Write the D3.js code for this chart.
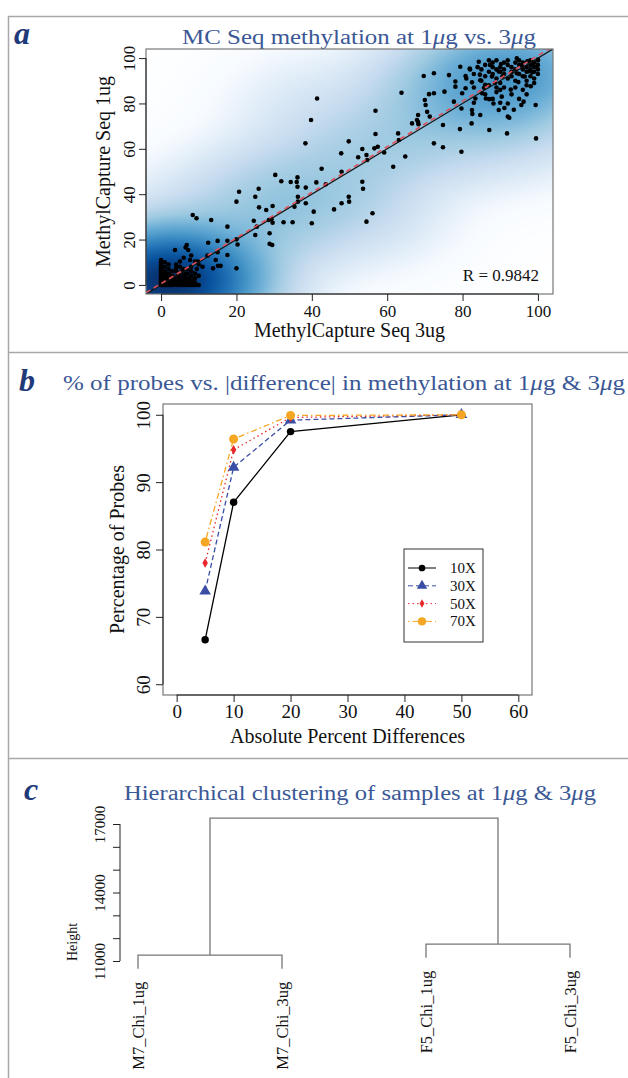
<!DOCTYPE html>
<html>
<head>
<meta charset="utf-8">
<script src="https://cdn.jsdelivr.net/npm/d3@7"></script>
<style>
body{margin:0;background:#fff}
svg{display:block}
text{font-family:"Liberation Serif","Times New Roman",serif;fill:#111}
.ttl{fill:#3b5896}
.lett{fill:#1f3a78;font-weight:bold;font-style:italic}
</style>
</head>
<body>
<div id="fig"></div>
<script>
// ---- panel a : MC seq 3ug (x) vs 1ug (y) ----
var mcPoints = [
  [0,0],[0,1],[0,2],[0,3],[0,4],[0,5],[0,6],[0,7],[0,8],[0,9],[0,10],[0,11],
  [0,0.5],[0,1.5],[0,2.5],[0,3.5],[0,4.5],[0,5.5],[0,6.5],[0,7.5],[0.3,0],[0.3,1],[0.3,2],[0.3,3],
  [0.5,0],[0.5,1.5],[1,0],[1,1],[1,2],[1,3],[1,5],[1.5,0.5],[1.5,2],[2,0],[2,1],[2,2],[2,3],[2,5],
  [1,0.5],[1,1.5],[1.5,0],[1.5,1],[2,0.5],[2,1.5],[2.5,0.5],[3,0.5],[3,1.5],[3.5,1],[4,0.5],[4,1.5],
  [4.5,1],[5,0.5],[5,1.5],[5.5,0],[6,0.5],[6,1.5],[6.5,0],[6.5,1],[7,0.5],[7.5,0],[7.5,1],[8,0.5],
  [8.5,0],[9,1],[9.5,0],[10,0],[1,4],[2,4],[3,3],[1,6],[2,7],[1,8],[2,9],[1,10],[3,6],[4,7.5],
  [2.5,0],[2.5,1.5],[3,0],[3,1],[3,2],[3,4],[3.5,0.5],[3.5,2.5],[4,0],[4,1],[4,2],[4,3],[4,6],
  [4.5,0.5],[4.5,4],[5,0],[5,1],[5,2],[5,3],[5,5],[5,8],[5.5,1],[5.5,6],[6,0],[6,1],[6,2],[6,4],
  [6,7],[6.5,3],[6.5,5],[7,0],[7,1],[7,2],[7,5],[7,7],[7.5,3],[8,0],[8,1],[8,4],[8,6],[8,8],
  [8.5,2],[9,0],[9,3],[9,5],[9.5,7],[10,4],[10,9],[11,8],[3.7,15.4],[6.8,17.6],[7.2,15.4],
  [6.5,16.5],[5,10.3],[4,9],[7.7,11],[9,10.3],[9.8,10.3],[6,12],[8,13],
  [8.4,30.8],[9.4,29.4],[12.3,12.9],[12.5,18.6],[13.3,28.6],[13.8,7.3],[14.5,11.0],[15.0,19.4],
  [15.0,14.4],[15.1,8.4],[15.8,8.4],[17.6,25.7],[17.6,19.5],[17.6,13.2],[20.0,7.3],[20.0,20.1],
  [20.3,17.8],[20.0,36.7],[20.7,41.1],[24.6,28.3],[25.0,22.0],[25.4,25.7],[25.0,38.9],[25.9,42.4],
  [26.0,34.2],[27.9,33.0],[28.6,28.6],[28.8,22.8],[28.8,18.1],[29.5,17.6],[29.6,34.8],[29.6,27.4],
  [29.3,29.0],[30.3,48.5],[31.9,45.7],[32.5,27.6],[34.4,45.4],[34.9,27.6],[35.4,34.5],[36.0,45.4],
  [36.2,47.4],[36.2,43.3],[36.3,36.7],[36.3,38.9],[38.3,62.4],[38.4,42.9],[38.4,36.0],[39.8,72.7],
  [40.0,27.2],[40.5,32.3],[41.4,82.2],[41.2,45.2],[42.6,51.2],[43.7,44.4],[45.9,33.3],[47.8,58.0],
  [47.9,49.9],[47.9,36.0],[49.8,63.3],[49.8,38.9],[49.9,36.7],[52.3,56.3],[53.4,59.9],[53.4,45.5],
  [53.6,42.4],[54.5,57.3],[54.7,55.1],[54.5,27.9],[56.1,31.6],[56.6,60.2],[56.9,76.8],[56.9,66.5],
  [57.5,60.9],
  [59.2,58.4],[61.6,52.1],[62.9,66.8],[63.1,63.9],[63.8,84.7],[64.8,56.6],[66.6,71.2],[67.9,72.7],
  [68.2,74.9],[68.2,71.8],[68.3,70.8],[70.0,81.5],[70.2,79.3],[70.6,76.3],[69.7,92.1],[71.1,84.1],
  [71.3,74.2],[72.4,93.3],[72.4,84.5],[72.4,62.4],[74.8,60.7],[74.8,70.5],[75.2,85.2],[76.4,92.5],
  [77.7,80.8],[78.1,89.7],[78.1,87.4],[79.3,68.7],[79.7,58.7],[79.7,77.8],[79.4,96.2],[79.9,84.5],
  [80.8,92.1],[80.8,86.7],[81.9,95.4],[82.0,95.0],[82.5,89.3],[82.5,77.1],[82.6,75.4],[83.0,80.3],
  [83.4,82.2],[82.4,71.2],[84.7,74.9],[84.7,90.2],[84.6,92.7],[84.3,98.4],[85.2,84.5],[85.7,86.9],
  [86.0,88.2],[86.2,82.2],[87.1,81.9],[87.1,68.3],[87.3,97.0],[87.8,91.9],[88.2,80.0],[88.6,89.0],
  [89.0,87.0],[89.6,94.1],[89.6,77.1],[90.0,80.3],[90.2,97.4],[90.4,83.0],[90.6,92.0],[91.1,78.0],
  [91.8,66.8],[92.0,74.2],[92.4,73.7],[92.8,86.1],[93.6,77.2],[94.4,99.9],[94.4,93.3],[94.8,89.4],
  [95.6,79.3],[95.8,96.5],[96.2,80.8],[96.5,91.9],[97.2,98.6],[97.6,94.2],[98.1,87.6],[98.5,93.7],
  [98.7,97.3],[99.4,79.3],[99.5,64.6],[99.6,96.0],[100,99.3],
  [85,95],[86,97],[86,92],[87,99],[87,94],[88,96],[88,93],[88,98],[89,91],[89,95],[89,99],[90,94],
  [90,96],[90,89],[91,98],[91,93],[91,95],[92,97],[92,91],[92,99],[93,94],[93,96],[93,92],[94,98],
  [94,95],[94,90],[95,97],[95,93],[95,99],[96,95],[96,92],[96,98],[97,96],[97,94],[97,90],[98,99],
  [98,97],[98,95],[98,92],[99,98],[99,96],[99,94],[99,91],[100,97],[100,99],[100,95],[100,93],
  [96,86],[97,88],[94,87],[91,87],[93,84],[89,85],[87,88],[85,90],[84,96],[83,93],[86,84],[88,82],
  [95,82],[92,80],[90,86],[97,84],[99,89],[83,87],[81,91]
];
// probes hidden under the solid black mass at the origin: [x, y, count]
var originStack = [[0,0,120],[1,1,60],[2,0,60],[0,3,40],[4,1,40],[6,1,30],[0,7,20],[8,1,20]];
var mcTicks = [0,20,40,60,80,100];
var lmIntercept = 0.6, lmSlope = 1.005;
var rLabel = "R = 0.9842";
var blues9 = ["#F7FBFF","#DEEBF7","#C6DBEF","#9ECAE1","#6BAED6","#4292C6","#2171B5","#08519C","#08306B"];

// ---- panel b : % probes vs |difference| ----
var diffLevels = [5,10,20,50];
var coverages = ["10X","30X","50X","70X"];
var pct10X = [66.6,87.0,97.5,100];
var pct30X = [73.8,92.2,99.2,100];
var pct50X = [78.0,94.8,99.6,100];
var pct70X = [81.1,96.4,99.9,100];
var diffTicks = [0,10,20,30,40,50,60];
var pctTicks = [60,70,80,90,100];

// ---- panel c : dendrogram ----
var samples = ["M7_Chi_1ug","M7_Chi_3ug","F5_Chi_1ug","F5_Chi_3ug"];
var mergeM7 = 11260, mergeF5 = 11740, mergeTop = 17260;
var heightTicks = [11000,12000,13000,14000,15000,16000,17000];
var heightLabels = [11000,14000,17000];

var W = 628, H = 1078;
var svg = d3.select("#fig").append("svg").attr("width", W).attr("height", H);

// frame
var frame = svg.append("g").attr("stroke","#a8a8a8").attr("stroke-width",1.5);
frame.append("line").attr("x1",8.5).attr("x2",8.5).attr("y1",16).attr("y2",H);
frame.append("line").attr("x1",8).attr("x2",W).attr("y1",16.5).attr("y2",16.5);
frame.append("line").attr("x1",8).attr("x2",W).attr("y1",352.5).attr("y2",352.5);
frame.append("line").attr("x1",8).attr("x2",W).attr("y1",758.5).attr("y2",758.5);

function mu(t, pre, post){
  t.append("tspan").text(pre);
  t.append("tspan").style("font-style","italic").text("\u03bc");
  t.append("tspan").text(post);
}

// R style axis: line from first to last tick
function bottomAxis(g, sc, ticks, y0, fs, pad){
  var a = g.append("g").attr("transform","translate(0,"+y0+")")
    .call(d3.axisBottom(sc).tickValues(ticks).tickSize(7).tickPadding(pad));
  a.select(".domain").attr("d","M"+sc(ticks[0])+",0H"+sc(ticks[ticks.length-1]));
  a.selectAll("line,path").attr("stroke","#222");
  a.selectAll("text").style("font-size",fs+"px").attr("fill","#111");
  a.attr("font-family",null);
  return a;
}
function leftAxis(g, sc, ticks, x0, fs, dist, labels){
  var a = g.append("g").attr("transform","translate("+x0+",0)")
    .call(d3.axisLeft(sc).tickValues(ticks).tickSize(7)
      .tickFormat(function(d){ return (!labels || labels.indexOf(d)>=0) ? d : ""; }));
  a.select(".domain").attr("d","M0,"+sc(ticks[0])+"V"+sc(ticks[ticks.length-1]));
  a.selectAll("line,path").attr("stroke","#222");
  a.selectAll("text").attr("transform","rotate(-90)").attr("x",0).attr("y",-dist)
    .attr("dy",null).attr("text-anchor","middle").style("font-size",fs+"px").attr("fill","#111");
  a.attr("font-family",null);
  return a;
}

// ================= panel a =================
var ga = svg.append("g");
ga.append("text").attr("class","lett").attr("x",14).attr("y",44).style("font-size","32px").text("a");
var ta = ga.append("text").attr("class","ttl").attr("x",359).attr("y",44).attr("text-anchor","middle")
  .style("font-size","20px").attr("textLength",354).attr("lengthAdjust","spacingAndGlyphs");
mu(ta, "MC Seq methylation at 1", "g vs. 3");
ta.append("tspan").style("font-style","italic").text("\u03bc");
ta.append("tspan").text("g");

var xa = d3.scaleLinear().domain([-4,104]).range([146,553]);
var ya = d3.scaleLinear().domain([-4,104]).range([294,49]);

// smoothed density background (smoothScatter-like)
var densPts = mcPoints.map(function(p){ return [p[0],p[1],1]; }).concat(originStack);
var nx = 120, ny = 120, bw = 10.5;
var dens = new Float64Array(nx*ny), dmax = 0;
for (var j=0;j<ny;j++){
  var gyv = 104 - (j+0.5)*108/ny;
  for (var i=0;i<nx;i++){
    var gxv = -4 + (i+0.5)*108/nx, s = 0;
    densPts.forEach(function(p){
      var dx=(p[0]-gxv)/bw, dy=(p[1]-gyv)/bw;
      s += p[2]*Math.exp(-0.5*(dx*dx+dy*dy));
    });
    dens[j*nx+i] = s; if (s>dmax) dmax = s;
  }
}
var pal = d3.piecewise(d3.interpolateRgb, ["#FFFFFF"].concat(blues9));
var cv = document.createElement("canvas"); cv.width = nx; cv.height = ny;
var cx = cv.getContext("2d"), im = cx.createImageData(nx, ny);
for (var k=0;k<nx*ny;k++){
  var c = d3.rgb(pal(Math.pow(dens[k]/dmax, 0.25)));
  im.data[4*k]=c.r; im.data[4*k+1]=c.g; im.data[4*k+2]=c.b; im.data[4*k+3]=255;
}
cx.putImageData(im,0,0);
ga.append("image").attr("x",xa(-4)).attr("y",ya(104)).attr("width",xa(104)-xa(-4))
  .attr("height",ya(-4)-ya(104)).attr("preserveAspectRatio","none")
  .attr("href", cv.toDataURL());

ga.append("clipPath").attr("id","clipA").append("rect")
  .attr("x",xa(-4)).attr("y",ya(104)).attr("width",xa(104)-xa(-4)).attr("height",ya(-4)-ya(104));
var pa = ga.append("g").attr("clip-path","url(#clipA)");
pa.selectAll("circle").data(mcPoints).enter().append("circle")
  .attr("cx",function(d){return xa(d[0]);}).attr("cy",function(d){return ya(d[1]);})
  .attr("r",2.3).attr("fill","#000");
pa.append("line").attr("x1",xa(-4)).attr("y1",ya(-4)).attr("x2",xa(104)).attr("y2",ya(104))
  .attr("stroke","#111").attr("stroke-width",1.2);
pa.append("line").attr("x1",xa(-4)).attr("y1",ya(lmIntercept-4*lmSlope))
  .attr("x2",xa(104)).attr("y2",ya(lmIntercept+104*lmSlope))
  .attr("stroke","#e0505a").attr("stroke-width",1.6).attr("stroke-dasharray","5,4");
ga.append("rect").attr("x",xa(-4)).attr("y",ya(104)).attr("width",xa(104)-xa(-4))
  .attr("height",ya(-4)-ya(104)).attr("fill","none").attr("stroke","#777").attr("stroke-width",1.2);
ga.append("text").attr("x",539).attr("y",281).attr("text-anchor","end").style("font-size","17px").text(rLabel);

bottomAxis(ga, xa, mcTicks, 294, 17, 4);
leftAxis(ga, ya, mcTicks, 146, 17, 11);
ga.append("text").attr("x",xa(50)).attr("y",337).attr("text-anchor","middle").style("font-size","20px")
  .text("MethylCapture Seq 3ug");
ga.append("text").attr("transform","translate(110,"+ya(50)+") rotate(-90)").attr("text-anchor","middle")
  .style("font-size","20px").text("MethylCapture Seq 1ug");

// ================= panel b =================
var gb = svg.append("g");
gb.append("text").attr("class","lett").attr("x",19).attr("y",391).style("font-size","32px").text("b");
var tb = gb.append("text").attr("class","ttl").attr("x",344).attr("y",390).attr("text-anchor","middle")
  .style("font-size","20px").attr("textLength",562).attr("lengthAdjust","spacingAndGlyphs");
mu(tb, "% of probes vs. |difference| in methylation at 1", "g & 3");
tb.append("tspan").style("font-style","italic").text("\u03bc");
tb.append("tspan").text("g");

var xb = d3.scaleLinear().domain([-2.4,62.4]).range([163,532]);
var yb = d3.scaleLinear().domain([58.4,101.6]).range([695,404]);
gb.append("rect").attr("x",163).attr("y",404).attr("width",369).attr("height",291)
  .attr("fill","none").attr("stroke","#777").attr("stroke-width",1.2);

var seriesB = [
  {name:coverages[0], vals:pct10X, color:"#000000", dash:null, sym:d3.symbolCircle, size:44},
  {name:coverages[1], vals:pct30X, color:"#3a4ea5", dash:"5,3", sym:d3.symbolTriangle, size:58},
  {name:coverages[2], vals:pct50X, color:"#e8262b", dash:"1.5,3", sym:d3.symbolDiamond, size:26},
  {name:coverages[3], vals:pct70X, color:"#f5a623", dash:"1.5,3,6,3", sym:d3.symbolCircle, size:64}
];
var lineB = d3.line().x(function(d){return xb(d[0]);}).y(function(d){return yb(d[1]);});
seriesB.forEach(function(s){
  var pts = diffLevels.map(function(d,i){return [d, s.vals[i]];});
  gb.append("path").attr("d",lineB(pts)).attr("fill","none").attr("stroke",s.color)
    .attr("stroke-width",1.3).attr("stroke-dasharray",s.dash);
});
seriesB.forEach(function(s){
  gb.selectAll(null).data(diffLevels).enter().append("path")
    .attr("transform",function(d,i){return "translate("+xb(d)+","+yb(s.vals[i])+")";})
    .attr("d",d3.symbol().type(s.sym).size(s.size)).attr("fill",s.color);
});

// legend
var lg = gb.append("g").attr("transform","translate(404,549)");
lg.append("rect").attr("width",79).attr("height",93).attr("fill","#fff").attr("stroke","#333").attr("stroke-width",1);
seriesB.forEach(function(s,i){
  var yy = 19 + i*17.8;
  lg.append("line").attr("x1",4).attr("x2",32).attr("y1",yy).attr("y2",yy)
    .attr("stroke",s.color).attr("stroke-width",1).attr("stroke-dasharray",s.dash);
  lg.append("path").attr("transform","translate(18,"+yy+")")
    .attr("d",d3.symbol().type(s.sym).size(s.size*0.8)).attr("fill",s.color);
  lg.append("text").attr("x",46).attr("y",yy+5).style("font-size","15px").text(s.name);
});

bottomAxis(gb, xb, diffTicks, 695, 19, 3);
leftAxis(gb, yb, pctTicks, 163, 19, 13);
gb.append("text").attr("x",xb(30)).attr("y",743).attr("text-anchor","middle").style("font-size","20px")
  .text("Absolute Percent Differences");
gb.append("text").attr("transform","translate(124,"+yb(80)+") rotate(-90)").attr("text-anchor","middle")
  .style("font-size","20px").text("Percentage of Probes");

// ================= panel c =================
var gc = svg.append("g");
gc.append("text").attr("class","lett").attr("x",24).attr("y",800).style("font-size","32px").text("c");
var tc = gc.append("text").attr("class","ttl").attr("x",360).attr("y",800).attr("text-anchor","middle")
  .style("font-size","20px").attr("textLength",472).attr("lengthAdjust","spacingAndGlyphs");
mu(tc, "Hierarchical clustering of samples at 1", "g & 3");
tc.append("tspan").style("font-style","italic").text("\u03bc");
tc.append("tspan").text("g");

var yc = d3.scaleLinear().domain([11000,17000]).range([961,824]);
var xc = d3.scalePoint().domain(samples).range([138,570]);
var hang = 0.1*(mergeTop - mergeM7);
var nodes = [
  {a:samples[0], b:samples[1], h:mergeM7},
  {a:samples[2], b:samples[3], h:mergeF5}
];
var dg = gc.append("g").attr("stroke","#777").attr("stroke-width",1.3).attr("fill","none");
nodes.forEach(function(n){
  var lo = n.h - hang;
  dg.append("path").attr("d","M"+xc(n.a)+","+yc(lo)+"V"+yc(n.h)+"H"+xc(n.b)+"V"+yc(lo));
  n.mid = (xc(n.a)+xc(n.b))/2;
  [n.a,n.b].forEach(function(s){
    gc.append("text").attr("transform","translate("+(xc(s)+5.5)+","+(yc(lo)+13)+") rotate(-90)")
      .attr("text-anchor","end").style("font-size","16.5px").text(s);
  });
});
dg.append("path").attr("d","M"+nodes[0].mid+","+yc(nodes[0].h)+"V"+yc(mergeTop)+"H"+nodes[1].mid+"V"+yc(nodes[1].h));

leftAxis(gc, yc, heightTicks, 120, 15, 15, heightLabels);
gc.append("text").attr("transform","translate(77,942) rotate(-90)").attr("text-anchor","middle")
  .style("font-size","14px").text("Height");
</script>
</body>
</html>
